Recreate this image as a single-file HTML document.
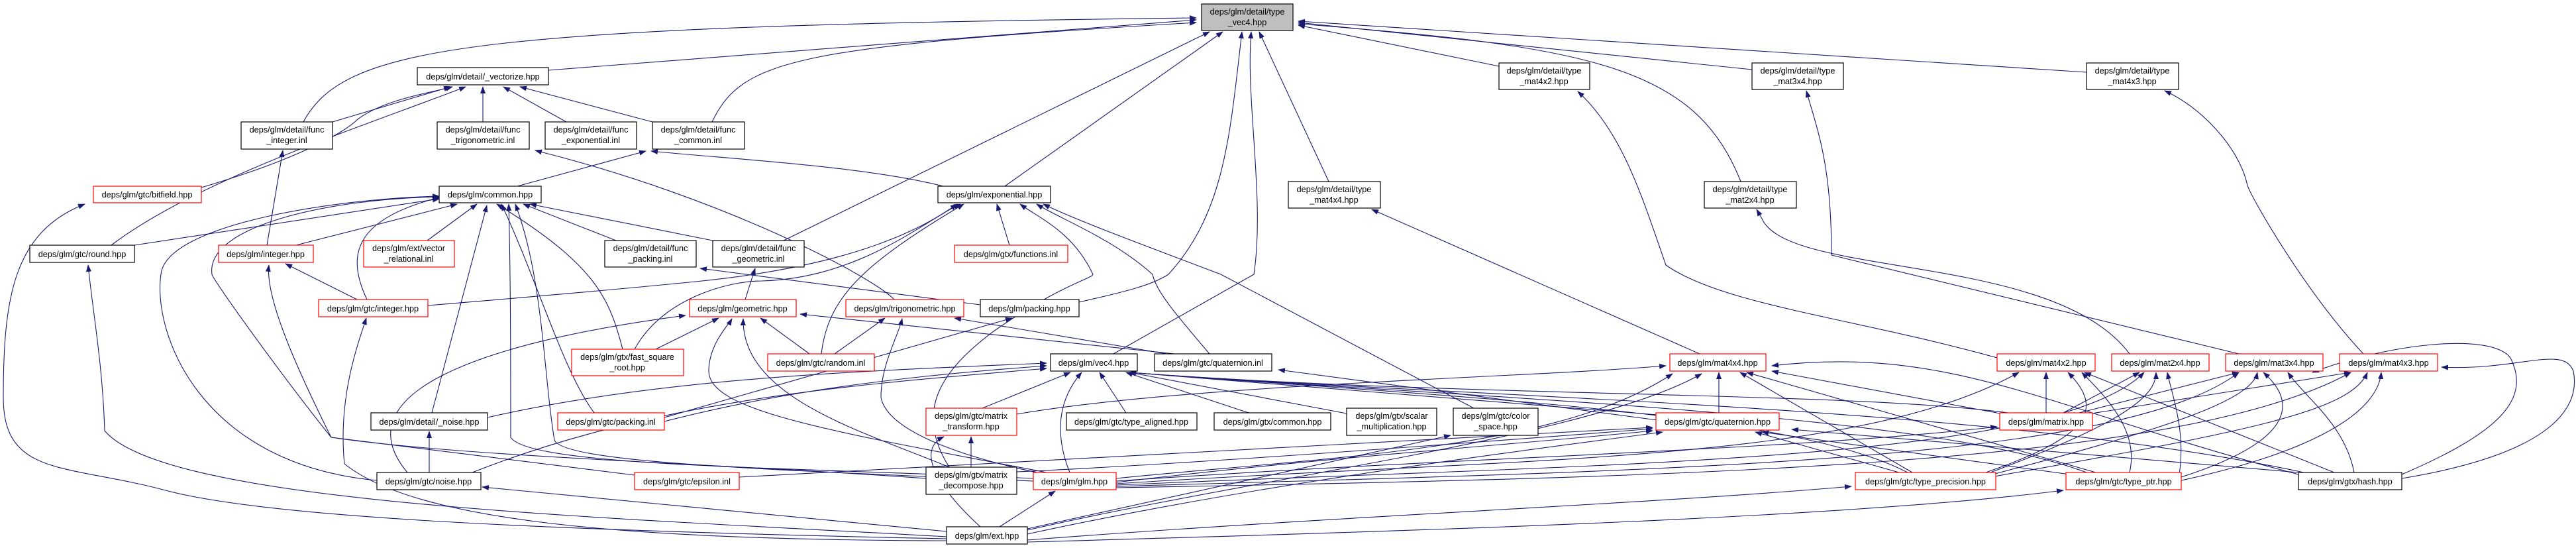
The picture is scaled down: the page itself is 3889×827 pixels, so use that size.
<!DOCTYPE html>
<html><head><meta charset="utf-8"><style>
html,body{margin:0;padding:0;background:#fff;}
svg{display:block;}
text{font-family:"Liberation Sans",Arial,sans-serif;font-size:12.7px;fill:#000;text-anchor:middle;}
.e{fill:none;stroke:#191970;stroke-width:1.1;marker-end:url(#a);}
.b{fill:#fff;stroke:#000;stroke-width:1.2;}
.r{fill:#fff;stroke:#ff0000;stroke-width:1.2;}
.g{fill:#bfbfbf;stroke:#000;stroke-width:1.2;}
</style></head><body>
<svg width="3889" height="827" viewBox="0 0 3889 827" xmlns="http://www.w3.org/2000/svg">
<defs><marker id="a" markerWidth="11" markerHeight="8" refX="10" refY="4" orient="auto" markerUnits="userSpaceOnUse"><path d="M0,0 L11,4 L0,8 z" fill="#191970"/></marker></defs>
<g>
<!-- to type_vec4 -->
<path class="e" d="M828,106 L1806,30"/>
<path class="e" d="M458,184 C520,70 700,40 1806,27"/>
<path class="e" d="M1075,184 C1120,90 1200,70 1806,34"/>
<path class="e" d="M1183,363 L1826,48"/>
<path class="e" d="M1517,281 L1846,48"/>
<path class="e" d="M1681,534 L1893,414 C1910,300 1880,150 1889,48"/>
<path class="e" d="M1629,456 C1700,440 1740,430 1764,414 C1850,320 1857,200 1875,48"/>
<path class="e" d="M2006,274 L1901,48"/>
<path class="e" d="M2263,100 L1960,38"/>
<path class="e" d="M2628,274 C2560,100 2400,70 1960,36"/>
<path class="e" d="M2645,105 L1960,34"/>
<path class="e" d="M3150,109 L1960,32"/>
<!-- to _vectorize -->
<path class="e" d="M502,184 L680,131"/>
<path class="e" d="M729,184 L729,131"/>
<path class="e" d="M855,184 L760,131"/>
<path class="e" d="M985,184 L785,131"/>
<path class="e" d="M304,283 C450,240 520,200 540,180 C580,150 650,140 683,131"/>
<path class="e" d="M168,370 C300,270 550,190 703,131"/>
<!-- detail funcs -->
<path class="e" d="M403,370 L427,227"/>
<path class="e" d="M1350,452 C1320,420 1100,300 808,227"/>
<path class="e" d="M781,281 L975,228"/>
<path class="e" d="M1424,281 C1300,250 1100,240 983,228"/>
<path class="e" d="M1125,452 L1140,405"/>
<path class="e" d="M1480,460 L1057,405"/>
<!-- to common.hpp -->
<path class="e" d="M203,370 L663,300"/>
<path class="e" d="M447,370 L690,308"/>
<path class="e" d="M645,363 L720,308"/>
<path class="e" d="M930,363 L790,308"/>
<path class="e" d="M1076,363 L800,308"/>
<path class="e" d="M652,623 L735,310"/>
<path class="e" d="M940,527 C920,450 900,400 750,308"/>
<path class="e" d="M897,623 C850,560 810,420 757,308"/>
<path class="e" d="M554,452 C520,380 540,330 663,298"/>
<path class="e" d="M569,725 C300,700 230,500 243,414 C250,340 500,300 663,296"/>
<path class="e" d="M1398,722 C1100,700 700,690 500,660 C420,560 320,420 320,414 C310,340 500,300 663,297"/>
<path class="e" d="M1560,722 C1200,705 800,705 771,660 C771,560 771,420 768,308"/>
<path class="e" d="M1560,726 C1200,710 850,700 837,664 C820,560 820,420 778,308"/>
<path class="e" d="M539,452 L431,398"/>
<path class="e" d="M958,717 L500,660 C450,560 400,450 406,400"/>
<!-- ext to left -->
<path class="e" d="M1429,810 C900,780 250,760 158,650 C155,550 140,470 133,400"/>
<path class="e" d="M1429,813 C800,800 400,780 250,740 C100,700 5,720 5,600 C5,450 20,350 128,308"/>
<path class="e" d="M1429,816 C900,815 620,780 520,700 C510,600 540,520 553,480"/>
<path class="e" d="M1429,802 L728,735"/>
<!-- to exponential -->
<path class="e" d="M1524,370 L1505,308"/>
<path class="e" d="M646,461 C900,440 1000,430 1050,425 C1300,400 1400,340 1445,308"/>
<path class="e" d="M958,527 C1000,450 1100,424 1150,424 C1300,420 1400,330 1450,308"/>
<path class="e" d="M1240,534 C1250,450 1300,400 1455,308"/>
<path class="e" d="M1826,534 C1780,480 1745,440 1740,414 C1680,360 1600,330 1565,308"/>
<path class="e" d="M2225,616 L1843,414 C1700,360 1620,330 1575,308"/>
<path class="e" d="M1433,705 C1380,620 1420,560 1500,500 C1600,430 1650,420 1650,414 C1620,350 1570,330 1540,308"/>
<!-- to geometric -->
<path class="e" d="M615,713 C520,600 700,520 1035,476"/>
<path class="e" d="M990,527 L1085,480"/>
<path class="e" d="M1222,534 L1148,480"/>
<path class="e" d="M1580,713 C1250,650 1070,620 1070,560 C1070,520 1100,490 1105,481"/>
<path class="e" d="M1433,705 C1300,650 1120,600 1122,481"/>
<path class="e" d="M1773,534 L1208,474"/>
<!-- to trig -->
<path class="e" d="M1260,534 L1336,480"/>
<path class="e" d="M1580,716 C1450,690 1340,650 1330,600 C1330,550 1355,510 1362,481"/>
<path class="e" d="M1773,536 L1441,480"/>
<!-- to packing -->
<path class="e" d="M1003,630 L1528,480"/>
<!-- to vec4.hpp -->
<path class="e" d="M736,630 C1000,570 1300,560 1580,548"/>
<path class="e" d="M1003,636 C1200,585 1400,565 1580,552"/>
<path class="e" d="M713,713 C1000,600 1300,580 1580,556"/>
<path class="e" d="M1483,616 L1616,562"/>
<path class="e" d="M1615,713 C1590,650 1600,600 1633,562"/>
<path class="e" d="M1700,623 L1660,562"/>
<path class="e" d="M1885,623 L1700,562"/>
<path class="e" d="M2033,624 L1705,562"/>
<path class="e" d="M2502,626 L1705,562"/>
<path class="e" d="M3039,624 C2800,590 2200,600 1705,562"/>
<path class="e" d="M3478,713 C3000,610 2200,600 1705,562"/>
<path class="e" d="M3150,713 C2900,620 2200,600 1705,562"/>
<path class="e" d="M2880,713 C2700,620 2200,600 1705,562"/>
<!-- quaternion.inl -->
<path class="e" d="M2502,634 L1930,558"/>
<!-- mat4x4 & type_mat -->
<path class="e" d="M2566,534 L2071,316"/>
<path class="e" d="M3015,540 C2800,480 2600,460 2515,400 C2480,300 2450,200 2382,138"/>
<path class="e" d="M3215,534 C3100,380 2700,420 2660,330 L2652,316"/>
<path class="e" d="M3380,534 L2765,385 C2765,250 2745,200 2727,137"/>
<path class="e" d="M3568,534 C3480,440 3400,300 3393,280 C3380,220 3320,160 3268,137"/>
<path class="e" d="M1535,625 C1800,580 2300,570 2515,552"/>
<path class="e" d="M2887,713 L2627,562"/>
<path class="e" d="M3164,713 L2637,562"/>
<path class="e" d="M3470,716 C3100,620 2950,520 2675,552"/>
<path class="e" d="M3025,625 L2675,560"/>
<path class="e" d="M2595,623 L2595,562"/>
<path class="e" d="M1685,722 C2000,690 2350,680 2525,564"/>
<path class="e" d="M1551,800 C1900,720 2400,660 2569,564"/>
<!-- quaternion.hpp -->
<path class="e" d="M1685,728 C2000,690 2300,670 2495,650"/>
<path class="e" d="M1551,806 C1900,730 2300,680 2510,652"/>
<path class="e" d="M1535,712 C1800,700 2200,670 2495,647"/>
<path class="e" d="M2867,713 L2650,652"/>
<path class="e" d="M3125,716 L2660,652"/>
<path class="e" d="M3470,713 L2705,648"/>
<path class="e" d="M1116,720 C1700,690 2200,660 2495,645"/>
<!-- misc -->
<path class="e" d="M1551,798 L2190,657"/>
<path class="e" d="M1466,705 L1466,659"/>
<path class="e" d="M1480,795 C1420,740 1380,680 1425,659"/>
<path class="e" d="M1685,726 C2200,690 2700,680 3015,644"/>
<path class="e" d="M1685,730 C2300,690 2800,700 3048,562"/>
<path class="e" d="M1685,732 C2400,700 3100,700 3237,562"/>
<path class="e" d="M1685,734 C2500,710 3200,700 3380,562"/>
<path class="e" d="M1685,736 C2600,720 3300,700 3549,562"/>
<path class="e" d="M1509,795 L1593,741"/>
<path class="e" d="M1551,815 C2000,780 2500,760 2795,734"/>
<path class="e" d="M1551,818 C2200,800 2800,780 3115,740"/>
<path class="e" d="M648,713 L648,651"/>
<!-- type_precision / ptr / hash to mats -->
<path class="e" d="M2998,713 C3150,660 3180,620 3122,562"/>
<path class="e" d="M3005,713 C3200,640 3255,600 3255,562"/>
<path class="e" d="M3008,716 C3300,640 3400,600 3408,562"/>
<path class="e" d="M3011,719 C3400,650 3550,620 3574,562"/>
<path class="e" d="M3215,713 C3230,650 3180,600 3143,562"/>
<path class="e" d="M3290,716 C3300,650 3280,600 3272,562"/>
<path class="e" d="M3293,720 C3480,660 3460,600 3417,562"/>
<path class="e" d="M3293,725 C3500,680 3590,620 3595,562"/>
<path class="e" d="M3524,713 L3147,562"/>
<path class="e" d="M3554,713 C3540,640 3480,600 3454,562"/>
<path class="e" d="M3626,716 C3780,650 3820,600 3790,540 C3760,500 3600,520 3491,562"/>
<path class="e" d="M3626,722 C3880,680 3893,600 3885,560 C3870,520 3800,560 3686,554"/>
<!-- matrix.hpp to mats -->
<path class="e" d="M3089,623 L3089,562"/>
<path class="e" d="M3115,623 L3230,562"/>
<path class="e" d="M3139,623 L3380,562"/>
<path class="e" d="M3145,626 L3549,562"/>
</g>
<g>
<rect class="g" x="1814" y="6" width="138" height="40"/><text x="1883" y="22">deps/glm/detail/type</text><text x="1883" y="38">_vec4.hpp</text>
<rect class="b" x="630" y="102" width="198" height="26"/><text x="729" y="120">deps/glm/detail/_vectorize.hpp</text>
<rect class="b" x="364" y="184" width="138" height="41"/><text x="433" y="200">deps/glm/detail/func</text><text x="433" y="216">_integer.inl</text>
<rect class="b" x="660" y="184" width="139" height="41"/><text x="729" y="200">deps/glm/detail/func</text><text x="729" y="216">_trigonometric.inl</text>
<rect class="b" x="823" y="184" width="138" height="41"/><text x="892" y="200">deps/glm/detail/func</text><text x="892" y="216">_exponential.inl</text>
<rect class="b" x="985" y="184" width="139" height="41"/><text x="1054" y="200">deps/glm/detail/func</text><text x="1054" y="216">_common.inl</text>
<rect class="r" x="141" y="281" width="163" height="25"/><text x="222" y="298">deps/glm/gtc/bitfield.hpp</text>
<rect class="b" x="663" y="281" width="154" height="25"/><text x="740" y="298">deps/glm/common.hpp</text>
<rect class="b" x="1416" y="281" width="170" height="25"/><text x="1501" y="298">deps/glm/exponential.hpp</text>
<rect class="b" x="1945" y="274" width="139" height="40"/><text x="2014" y="290">deps/glm/detail/type</text><text x="2014" y="306">_mat4x4.hpp</text>
<rect class="b" x="2263" y="95" width="137" height="40"/><text x="2331" y="111">deps/glm/detail/type</text><text x="2331" y="127">_mat4x2.hpp</text>
<rect class="b" x="2573" y="274" width="139" height="40"/><text x="2642" y="290">deps/glm/detail/type</text><text x="2642" y="306">_mat2x4.hpp</text>
<rect class="b" x="2645" y="95" width="138" height="40"/><text x="2714" y="111">deps/glm/detail/type</text><text x="2714" y="127">_mat3x4.hpp</text>
<rect class="b" x="3150" y="95" width="139" height="40"/><text x="3219" y="111">deps/glm/detail/type</text><text x="3219" y="127">_mat4x3.hpp</text>
<rect class="b" x="45" y="370" width="158" height="26"/><text x="124" y="388">deps/glm/gtc/round.hpp</text>
<rect class="r" x="330" y="370" width="143" height="26"/><text x="401" y="388">deps/glm/integer.hpp</text>
<rect class="r" x="549" y="363" width="137" height="40"/><text x="617" y="379">deps/glm/ext/vector</text><text x="617" y="395">_relational.inl</text>
<rect class="b" x="913" y="363" width="138" height="40"/><text x="982" y="379">deps/glm/detail/func</text><text x="982" y="395">_packing.inl</text>
<rect class="b" x="1076" y="363" width="138" height="40"/><text x="1145" y="379">deps/glm/detail/func</text><text x="1145" y="395">_geometric.inl</text>
<rect class="r" x="1441" y="370" width="171" height="26"/><text x="1526" y="388">deps/glm/gtx/functions.inl</text>
<rect class="r" x="481" y="452" width="165" height="26"/><text x="563" y="470">deps/glm/gtc/integer.hpp</text>
<rect class="r" x="1041" y="452" width="161" height="26"/><text x="1121" y="470">deps/glm/geometric.hpp</text>
<rect class="r" x="1277" y="452" width="178" height="26"/><text x="1366" y="470">deps/glm/trigonometric.hpp</text>
<rect class="b" x="1480" y="452" width="149" height="26"/><text x="1554" y="470">deps/glm/packing.hpp</text>
<rect class="r" x="863" y="527" width="169" height="40"/><text x="947" y="543">deps/glm/gtx/fast_square</text><text x="947" y="559">_root.hpp</text>
<rect class="r" x="1159" y="534" width="161" height="26"/><text x="1239" y="552">deps/glm/gtc/random.inl</text>
<rect class="b" x="1586" y="534" width="131" height="26"/><text x="1651" y="552">deps/glm/vec4.hpp</text>
<rect class="b" x="1743" y="534" width="177" height="26"/><text x="1831" y="552">deps/glm/gtc/quaternion.inl</text>
<rect class="r" x="2521" y="534" width="145" height="26"/><text x="2593" y="552">deps/glm/mat4x4.hpp</text>
<rect class="r" x="3015" y="534" width="148" height="26"/><text x="3089" y="552">deps/glm/mat4x2.hpp</text>
<rect class="r" x="3188" y="534" width="147" height="26"/><text x="3261" y="552">deps/glm/mat2x4.hpp</text>
<rect class="r" x="3360" y="534" width="147" height="26"/><text x="3433" y="552">deps/glm/mat3x4.hpp</text>
<rect class="r" x="3532" y="534" width="148" height="26"/><text x="3606" y="552">deps/glm/mat4x3.hpp</text>
<rect class="b" x="560" y="623" width="176" height="26"/><text x="648" y="641">deps/glm/detail/_noise.hpp</text>
<rect class="r" x="842" y="623" width="161" height="26"/><text x="922" y="641">deps/glm/gtc/packing.inl</text>
<rect class="r" x="1398" y="616" width="137" height="41"/><text x="1466" y="632">deps/glm/gtc/matrix</text><text x="1466" y="648">_transform.hpp</text>
<rect class="b" x="1610" y="623" width="197" height="26"/><text x="1708" y="641">deps/glm/gtc/type_aligned.hpp</text>
<rect class="b" x="1833" y="623" width="176" height="26"/><text x="1921" y="641">deps/glm/gtx/common.hpp</text>
<rect class="b" x="2033" y="616" width="136" height="41"/><text x="2101" y="632">deps/glm/gtx/scalar</text><text x="2101" y="648">_multiplication.hpp</text>
<rect class="b" x="2194" y="616" width="128" height="41"/><text x="2258" y="632">deps/glm/gtc/color</text><text x="2258" y="648">_space.hpp</text>
<rect class="r" x="2500" y="623" width="186" height="26"/><text x="2593" y="641">deps/glm/gtc/quaternion.hpp</text>
<rect class="r" x="3019" y="623" width="140" height="26"/><text x="3089" y="641">deps/glm/matrix.hpp</text>
<rect class="b" x="569" y="713" width="157" height="26"/><text x="647" y="731">deps/glm/gtc/noise.hpp</text>
<rect class="r" x="958" y="713" width="158" height="26"/><text x="1037" y="731">deps/glm/gtc/epsilon.inl</text>
<rect class="b" x="1398" y="705" width="137" height="41"/><text x="1466" y="721">deps/glm/gtx/matrix</text><text x="1466" y="737">_decompose.hpp</text>
<rect class="r" x="1560" y="713" width="125" height="26"/><text x="1622" y="731">deps/glm/glm.hpp</text>
<rect class="r" x="2801" y="713" width="212" height="26"/><text x="2907" y="731">deps/glm/gtc/type_precision.hpp</text>
<rect class="r" x="3119" y="713" width="174" height="26"/><text x="3206" y="731">deps/glm/gtc/type_ptr.hpp</text>
<rect class="b" x="3470" y="713" width="156" height="26"/><text x="3548" y="731">deps/glm/gtx/hash.hpp</text>
<rect class="b" x="1429" y="795" width="122" height="26"/><text x="1490" y="813">deps/glm/ext.hpp</text>
</g>
</svg>
</body></html>
